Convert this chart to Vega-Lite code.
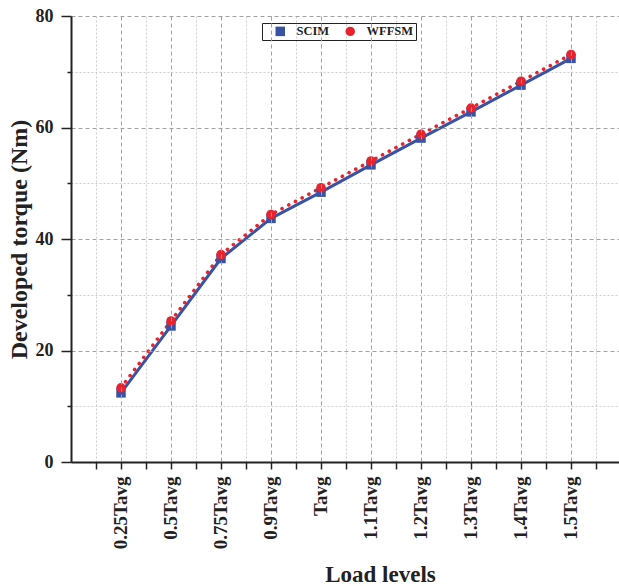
{
  "$schema": "https://vega.github.io/schema/vega-lite/v6.json",
  "width": 550,
  "height": 446,
  "autosize": {"type": "none"},
  "padding": {"left": 71, "top": 16, "right": 0, "bottom": 124},
  "background": "white",
  "config": {
    "view": {"stroke": null},
    "font": "Liberation Serif",
    "axis": {
      "labelFont": "Liberation Serif",
      "labelFontWeight": "bold",
      "labelColor": "#222222",
      "titleFont": "Liberation Serif",
      "titleFontWeight": "bold",
      "titleColor": "#222222",
      "tickColor": "#222222",
      "domainColor": "#222222"
    }
  },
  "data": {
    "values": [
      {"level": "0.25Tavg", "machine": "SCIM", "torque": 12.4},
      {"level": "0.5Tavg", "machine": "SCIM", "torque": 24.4},
      {"level": "0.75Tavg", "machine": "SCIM", "torque": 36.5},
      {"level": "0.9Tavg", "machine": "SCIM", "torque": 43.7},
      {"level": "Tavg", "machine": "SCIM", "torque": 48.4},
      {"level": "1.1Tavg", "machine": "SCIM", "torque": 53.3},
      {"level": "1.2Tavg", "machine": "SCIM", "torque": 58.1},
      {"level": "1.3Tavg", "machine": "SCIM", "torque": 62.8},
      {"level": "1.4Tavg", "machine": "SCIM", "torque": 67.6},
      {"level": "1.5Tavg", "machine": "SCIM", "torque": 72.4},
      {"level": "0.25Tavg", "machine": "WFFSM", "torque": 13.3},
      {"level": "0.5Tavg", "machine": "WFFSM", "torque": 25.3},
      {"level": "0.75Tavg", "machine": "WFFSM", "torque": 37.2},
      {"level": "0.9Tavg", "machine": "WFFSM", "torque": 44.4},
      {"level": "Tavg", "machine": "WFFSM", "torque": 49.2},
      {"level": "1.1Tavg", "machine": "WFFSM", "torque": 54.0},
      {"level": "1.2Tavg", "machine": "WFFSM", "torque": 58.8},
      {"level": "1.3Tavg", "machine": "WFFSM", "torque": 63.5},
      {"level": "1.4Tavg", "machine": "WFFSM", "torque": 68.3},
      {"level": "1.5Tavg", "machine": "WFFSM", "torque": 73.1}
    ]
  },
  "layer": [
    {
      "transform": [{"filter": "datum.machine === 'SCIM'"}],
      "mark": {"type": "line", "color": "#3953a4", "strokeWidth": 3, "strokeCap": "round", "strokeJoin": "round"},
      "encoding": {
        "x": {
          "field": "level",
          "type": "ordinal",
          "sort": null,
          "scale": {"type": "band", "paddingInner": 0, "paddingOuter": 0.5},
          "axis": {
            "orient": "bottom",
            "title": "Load levels",
            "titleFontSize": 23,
            "titleX": 309,
            "titleY": 119,
            "titleBaseline": "alphabetic",
            "labelAngle": -90,
            "labelFontSize": 19,
            "labelPadding": 7,
            "tickSize": 7,
            "tickWidth": 1.5,
            "domainWidth": 2,
            "grid": true,
            "gridColor": "#a0a0a0",
            "gridDash": [4, 3],
            "gridWidth": 1,
            "zindex": 1
          }
        },
        "y": {
          "field": "torque",
          "type": "quantitative",
          "scale": {"domain": [0, 80], "nice": false},
          "axis": {
            "orient": "left",
            "title": "Developed torque (Nm)",
            "titleFontSize": 24,
            "titlePadding": 4,
            "values": [0, 20, 40, 60, 80],
            "labelFontSize": 18,
            "labelPadding": 8,
            "tickSize": 10,
            "tickWidth": 1.5,
            "domainWidth": 2,
            "grid": true,
            "gridColor": "#a0a0a0",
            "gridDash": [4, 3],
            "gridWidth": 1,
            "zindex": 1
          }
        }
      }
    },
    {
      "transform": [{"filter": "datum.machine === 'WFFSM'"}],
      "mark": {"type": "line", "color": "#e8232e", "strokeWidth": 3.6, "strokeDash": [0.1, 7.5], "strokeCap": "round"},
      "encoding": {
        "x": {"field": "level", "type": "ordinal", "sort": null, "axis": null},
        "y": {"field": "torque", "type": "quantitative", "axis": null}
      }
    },
    {
      "mark": {"type": "point", "filled": true, "opacity": 1, "size": 90},
      "encoding": {
        "x": {
          "field": "level",
          "type": "ordinal",
          "sort": null,
          "axis": {
            "orient": "bottom",
            "title": null,
            "labels": false,
            "domain": false,
            "tickBand": "extent",
            "tickSize": 7,
            "tickWidth": 1.5,
            "grid": true,
            "gridColor": "#cfcfcf",
            "gridDash": [2, 2],
            "gridWidth": 1
          }
        },
        "y": {
          "field": "torque",
          "type": "quantitative",
          "axis": {
            "orient": "left",
            "title": null,
            "labels": false,
            "domain": false,
            "values": [10, 30, 50, 70],
            "tickSize": 4,
            "tickWidth": 1.5,
            "grid": true,
            "gridColor": "#cfcfcf",
            "gridDash": [2, 2],
            "gridWidth": 1
          }
        },
        "color": {
          "field": "machine",
          "type": "nominal",
          "scale": {"domain": ["SCIM", "WFFSM"], "range": ["#3953a4", "#e8232e"]},
          "legend": {
            "orient": "none",
            "legendX": 191,
            "legendY": 7,
            "direction": "horizontal",
            "title": null,
            "strokeColor": "#222222",
            "padding": 2,
            "labelFont": "Liberation Serif",
            "labelFontWeight": "bold",
            "labelFontSize": 12.5,
            "labelColor": "#222222",
            "labelOffset": 10,
            "symbolOffset": 10,
            "columnPadding": 4,
            "symbolSize": 90
          }
        },
        "shape": {
          "field": "machine",
          "type": "nominal",
          "scale": {"domain": ["SCIM", "WFFSM"], "range": ["square", "circle"]}
        }
      }
    }
  ],
  "resolve": {"axis": {"x": "independent", "y": "independent"}}
}
